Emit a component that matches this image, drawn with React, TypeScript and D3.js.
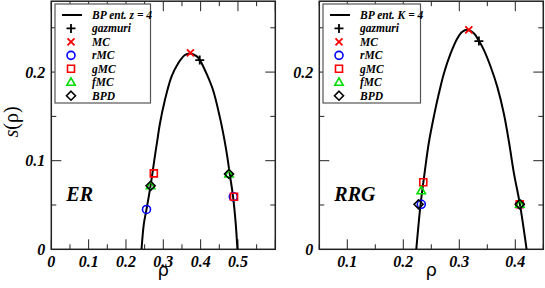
import { useMemo } from "react";
import * as d3 from "d3";

const WIDTH = 545;
const HEIGHT = 288;
const SERIF = "'Liberation Serif', 'Times New Roman', serif";

// ER panel (z = 4)
const ER_X_TICKS = [0, 0.1, 0.2, 0.3, 0.4, 0.5];
const ER_Y_TICKS = [0, 0.1, 0.2];
const ER_CURVE_RHO = [0.2417, 0.248, 0.255, 0.266, 0.271, 0.276, 0.284, 0.291, 0.304, 0.322, 0.34, 0.357, 0.371, 0.389, 0.398, 0.4155, 0.433, 0.451, 0.464, 0.472, 0.478, 0.487, 0.494, 0.4985];
const ER_CURVE_S = [0, 0.029, 0.045, 0.072, 0.086, 0.101, 0.123, 0.142, 0.168, 0.195, 0.21, 0.219, 0.221, 0.218, 0.2135, 0.1985, 0.18, 0.15, 0.123, 0.103, 0.085, 0.059, 0.029, 0];
const ER_GAZMURI = [[0.3976, 0.2135]];
const ER_MC = [[0.3727, 0.2218]];
const ER_RMC = [[0.255, 0.045], [0.4875, 0.0593]];
const ER_GMC = [[0.2746, 0.0857], [0.4895, 0.0593]];
const ER_FMC = [[0.266, 0.0717], [0.476, 0.085]];
const ER_BPD = [[0.266, 0.0717], [0.476, 0.085]];

// RRG panel (K = 4)
const RRG_X_TICKS = [0.1, 0.2, 0.3, 0.4];
const RRG_Y_TICKS = [0, 0.2];
const RRG_CURVE_RHO = [0.2232, 0.2309, 0.238, 0.2455, 0.2546, 0.2636, 0.2725, 0.2845, 0.2964, 0.3054, 0.314, 0.326, 0.335, 0.344, 0.356, 0.368, 0.3796, 0.389, 0.3975, 0.4082, 0.4202];
const RRG_CURVE_S = [0, 0.051, 0.086, 0.12, 0.15, 0.176, 0.1985, 0.221, 0.238, 0.2455, 0.2478, 0.2437, 0.2353, 0.2248, 0.206, 0.183, 0.153, 0.12, 0.086, 0.051, 0];
const RRG_GAZMURI = [[0.335, 0.235]];
const RRG_MC = [[0.317, 0.2476]];
const RRG_RMC = [[0.2321, 0.0508], [0.408, 0.0508]];
const RRG_GMC = [[0.2357, 0.0756], [0.408, 0.0508]];
const RRG_FMC = [[0.2321, 0.066], [0.408, 0.0508]];
const RRG_BPD = [[0.2273, 0.0508], [0.408, 0.0508]];

const LEGEND_LABELS = ["gazmuri", "MC", "rMC", "gMC", "fMC", "BPD"];

type Pt = number[];

const plusType = {
  draw(ctx: any, size: number) {
    const r = Math.sqrt(size) / 2;
    ctx.moveTo(-r, 0);
    ctx.lineTo(r, 0);
    ctx.moveTo(0, -r);
    ctx.lineTo(0, r);
  }
};
const crossType = {
  draw(ctx: any, size: number) {
    const r = Math.sqrt(size) / 2;
    ctx.moveTo(-r, -r);
    ctx.lineTo(r, r);
    ctx.moveTo(-r, r);
    ctx.lineTo(r, -r);
  }
};
const circleType = {
  draw(ctx: any, size: number) {
    const r = Math.sqrt(size) / 2;
    ctx.moveTo(r, 0);
    ctx.arc(0, 0, r, 0, 2 * Math.PI);
  }
};
const squareType = {
  draw(ctx: any, size: number) {
    const r = Math.sqrt(size) / 2;
    ctx.rect(-r, -r, 2 * r, 2 * r);
  }
};
const triangleType = {
  draw(ctx: any, size: number) {
    const r = Math.sqrt(size) / 2;
    ctx.moveTo(0, -r * 1.1);
    ctx.lineTo(r * 1.05, r * 0.75);
    ctx.lineTo(-r * 1.05, r * 0.75);
    ctx.closePath();
  }
};
const diamondType = {
  draw(ctx: any, size: number) {
    const r = Math.sqrt(size) / 2;
    ctx.moveTo(0, -r);
    ctx.lineTo(r, 0);
    ctx.lineTo(0, r);
    ctx.lineTo(-r, 0);
    ctx.closePath();
  }
};

const MARKERS = [
  { type: plusType, size: 81, color: "#000", width: 1.8 },
  { type: crossType, size: 49, color: "#ff0000", width: 1.8 },
  { type: circleType, size: 64, color: "#0000ff", width: 1.6 },
  { type: squareType, size: 49, color: "#ff0000", width: 1.6 },
  { type: triangleType, size: 64, color: "#00dd00", width: 1.6 },
  { type: diamondType, size: 81, color: "#000", width: 1.6 }
];

function Panel({ x0, x1, xDomain, xTicks, yTicks, rho, s, series, name, legendX, legendW, legendTitle }: any) {
  const top = 1.2;
  const bottom = 249.3;
  const x = d3.scaleLinear().domain(xDomain).range([x0, x1]);
  const y = d3.scaleLinear().domain([0, 0.28]).range([bottom, top]);
  const pts = rho.map((r: number, i: number) => [r, s[i]]);
  const linePath = d3
    .line<number[]>()
    .x((d) => x(d[0]))
    .y((d) => y(d[1]))
    .curve(d3.curveCatmullRom.alpha(0.5))(pts) ?? "";

  const xMinor = d3.range(Math.ceil(xDomain[0] / 0.05 - 1e-6) * 0.05, xDomain[1] + 1e-6, 0.05);
  const yMinor = d3.range(0.05, 0.28, 0.05);
  const isMajor = (v: number) => Math.abs(v * 10 - Math.round(v * 10)) < 1e-6;

  const sym = (i: number) => d3.symbol().type(MARKERS[i].type as any).size(MARKERS[i].size)() ?? "";

  const legendRowY = (i: number) => 15 + i * 13.45;
  const symX = legendX + 16;
  const textX = legendX + 37;
  const frame = "#222";

  return (
    <g>
      <defs>
        <clipPath id={`clip-${name}`}>
          <rect x={x0} y={top} width={x1 - x0} height={bottom - top} />
        </clipPath>
      </defs>
      {xMinor.map((v) => {
        const len = isMajor(v) ? 10 : 5;
        return (
          <g key={`xt${v}`}>
            <line x1={x(v)} x2={x(v)} y1={bottom} y2={bottom - len} stroke={frame} strokeWidth={1} />
            <line x1={x(v)} x2={x(v)} y1={top} y2={top + len} stroke={frame} strokeWidth={1} />
          </g>
        );
      })}
      {yMinor.map((v) => {
        const len = isMajor(v) ? 10 : 5;
        return (
          <g key={`yt${v}`}>
            <line x1={x0} x2={x0 + len} y1={y(v)} y2={y(v)} stroke={frame} strokeWidth={1} />
            <line x1={x1} x2={x1 - len} y1={y(v)} y2={y(v)} stroke={frame} strokeWidth={1} />
          </g>
        );
      })}
      <rect x={x0} y={top} width={x1 - x0} height={bottom - top} fill="none" stroke={frame} strokeWidth={1.5} />

      {xTicks.map((v: number) => (
        <text key={`xl${v}`} x={x(v)} y={266.5} textAnchor="middle" fontFamily={SERIF} fontWeight="bold" fontStyle="italic" fontSize={16}>
          {String(v)}
        </text>
      ))}
      {yTicks.map((v: number) => (
        <text key={`yl${v}`} x={x0 - 6} y={y(v) + 5.5} textAnchor="end" fontFamily={SERIF} fontWeight="bold" fontStyle="italic" fontSize={16}>
          {String(v)}
        </text>
      ))}

      <g clipPath={`url(#clip-${name})`}>
        <path d={linePath} fill="none" stroke="#000" strokeWidth={2} />
      </g>

      {series.map((list: Pt[], i: number) =>
        list.map((p, j) => (
          <path
            key={`m${i}-${j}`}
            d={sym(i)}
            transform={`translate(${x(p[0])},${y(p[1])})`}
            fill="none"
            stroke={MARKERS[i].color}
            strokeWidth={MARKERS[i].width}
          />
        ))
      )}

      <text x={(x0 + x1) / 2} y={276} textAnchor="middle" fontFamily="'DejaVu Sans', sans-serif" fontSize={18}>
        ρ
      </text>

      <text x={x0 + 15} y={201} fontFamily={SERIF} fontWeight="bold" fontStyle="italic" fontSize={20}>
        {name}
      </text>

      <rect x={legendX} y={4} width={legendW} height={99} fill="#fff" stroke="#555" strokeWidth={1.2} />
      <line x1={symX - 9} x2={symX + 11} y1={legendRowY(0)} y2={legendRowY(0)} stroke="#000" strokeWidth={2} />
      <text x={textX} y={legendRowY(0) + 4} fontFamily={SERIF} fontWeight="bold" fontStyle="italic" fontSize={11.5}>
        {legendTitle}
      </text>
      {LEGEND_LABELS.map((label, i) => (
        <g key={label}>
          <path
            d={sym(i)}
            transform={`translate(${symX},${legendRowY(i + 1)})`}
            fill="none"
            stroke={MARKERS[i].color}
            strokeWidth={MARKERS[i].width}
          />
          <text x={textX} y={legendRowY(i + 1) + 4} fontFamily={SERIF} fontWeight="bold" fontStyle="italic" fontSize={11.5}>
            {label}
          </text>
        </g>
      ))}
    </g>
  );
}

export default function App() {
  const erSeries = useMemo(() => [ER_GAZMURI, ER_MC, ER_RMC, ER_GMC, ER_FMC, ER_BPD], []);
  const rrgSeries = useMemo(() => [RRG_GAZMURI, RRG_MC, RRG_RMC, RRG_GMC, RRG_FMC, RRG_BPD], []);

  return (
    <svg
      width={WIDTH}
      height={HEIGHT}
      viewBox={`0 0 ${WIDTH} ${HEIGHT}`}
      style={{ position: "absolute", left: 0, top: 0, background: "#fff" }}
    >
      <rect width={WIDTH} height={HEIGHT} fill="#fff" />
      <text
        transform="translate(18,122) rotate(-90)"
        textAnchor="middle"
        fontFamily={SERIF}
        fontSize={20}
      >
        <tspan fontStyle="italic">s</tspan>(ρ)
      </text>
      <Panel
        name="ER"
        x0={51.3}
        x1={275.3}
        xDomain={[0, 0.6]}
        xTicks={ER_X_TICKS}
        yTicks={ER_Y_TICKS}
        rho={ER_CURVE_RHO}
        s={ER_CURVE_S}
        series={erSeries}
        legendX={55}
        legendW={95.5}
        legendTitle="BP ent. z = 4"
      />
      <Panel
        name="RRG"
        x0={319.3}
        x1={543.3}
        xDomain={[0.05, 0.45]}
        xTicks={RRG_X_TICKS}
        yTicks={RRG_Y_TICKS}
        rho={RRG_CURVE_RHO}
        s={RRG_CURVE_S}
        series={rrgSeries}
        legendX={323}
        legendW={97.5}
        legendTitle="BP ent. K = 4"
      />
    </svg>
  );
}
